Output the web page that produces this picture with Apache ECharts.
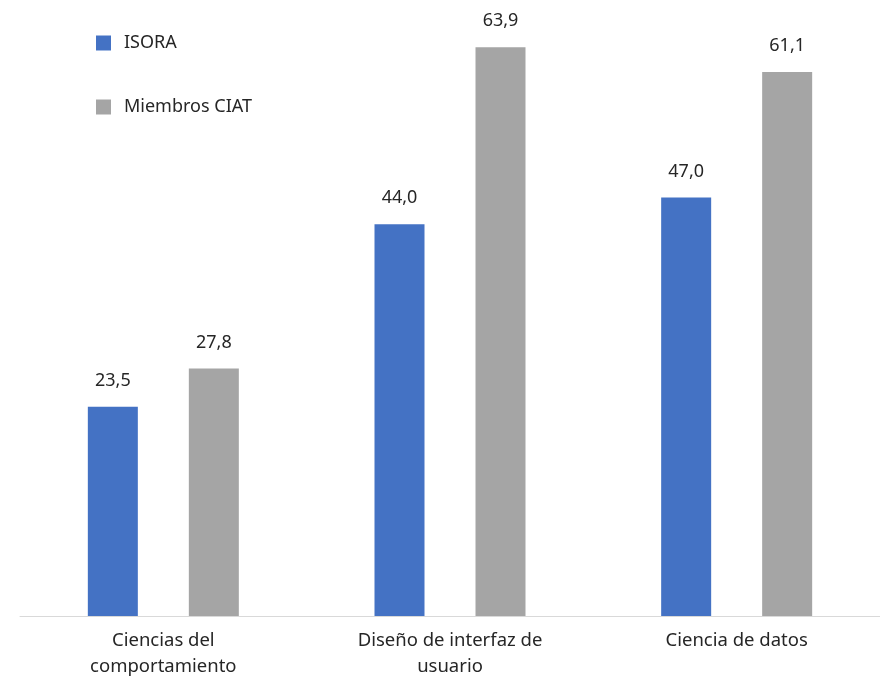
<!DOCTYPE html>
<html>
<head>
<meta charset="utf-8">
<script src="https://cdn.jsdelivr.net/npm/echarts@6/dist/echarts.min.js"></script>
<style>
  html, body { margin: 0; padding: 0; background: #fff; }
  #chart { width: 880px; height: 680px; }
</style>
</head>
<body>
<div id="chart"></div>
<script>
  const categories = ['Ciencias del\ncomportamiento', 'Diseño de interfaz de\nusuario', 'Ciencia de datos']
  const isora = [23.5, 44.0, 47.0]
  const miembrosCiat = [27.8, 63.9, 61.1]

  const fontFamily = '"Noto Sans", sans-serif'
  const fmt = (p) => p.value.toFixed(1).replace('.', ',')

  const chart = echarts.init(document.getElementById('chart'))
  chart.setOption({
    animation: false,
    textStyle: { fontFamily: fontFamily },
    legend: {
      orient: 'vertical',
      left: 91,
      top: 29,
      itemWidth: 15,
      itemHeight: 15,
      itemGap: 46,
      icon: 'rect',
      textStyle: { fontSize: 18, color: '#262626', fontFamily: fontFamily, padding: [0, 0, 0, 8] },
      data: ['ISORA', 'Miembros CIAT'],
    },
    grid: {
      left: 20,
      right: -4,
      top: 0,
      bottom: 63,
    },
    xAxis: {
      type: 'category',
      data: categories,
      axisLine: { show: true, lineStyle: { color: '#d9d9d9', width: 1 } },
      axisTick: { show: false },
      axisLabel: {
        fontSize: 18.5,
        color: '#262626',
        lineHeight: 26,
        margin: 12,
        interval: 0,
      },
    },
    yAxis: {
      type: 'value',
      min: 0,
      max: 69.2,
      show: false,
      splitLine: { show: false },
    },
    series: [
      {
        name: 'ISORA',
        type: 'bar',
        data: isora,
        barWidth: 50,
        barGap: '102%',
        itemStyle: { color: '#4472C4' },
        label: { show: true, position: 'top', distance: 17, fontSize: 18, color: '#262626', formatter: fmt },
      },
      {
        name: 'Miembros CIAT',
        type: 'bar',
        data: miembrosCiat,
        barWidth: 50,
        barGap: '102%',
        itemStyle: { color: '#A5A5A5' },
        label: { show: true, position: 'top', distance: 17, fontSize: 18, color: '#262626', formatter: fmt },
      },
    ],
  })
</script>
</body>
</html>
